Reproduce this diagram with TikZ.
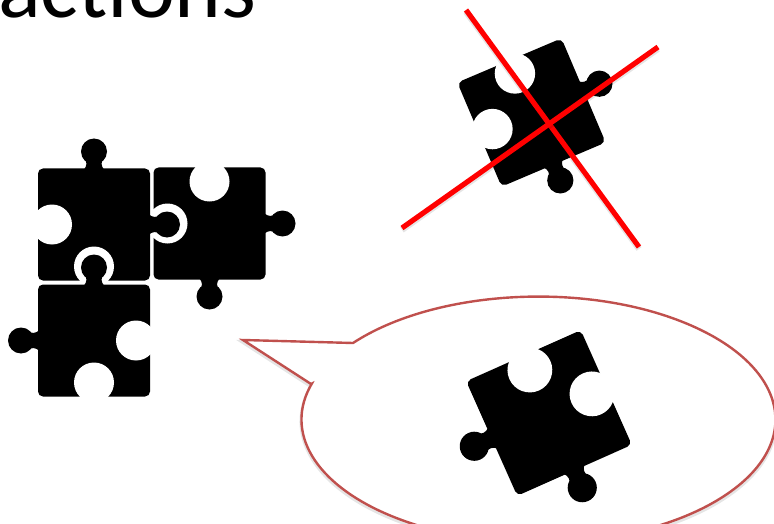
\documentclass[tikz,border=0pt]{standalone}
\usepackage{fontspec}
\setmainfont{Carlito}
\usepackage{tikz}

\definecolor{bubbleline}{RGB}{192,80,77}

\newcommand{\puzzlepiece}[7]{%
  \begin{scope}[shift={#1},rotate=#2,scale=#3]
    \fill[black,rounded corners=5pt] (-56,-56) rectangle (56,56);
    \foreach \kind/\ang in {#4/0,#5/-90,#6/180,#7/90}
      \pic[transform shape,rotate=\ang] {\kind};
  \end{scope}}

\begin{document}
\begin{tikzpicture}[
  x=1pt,y=-1pt,
  tabside/.pic={
    \fill[black] (0,-73) circle (13);
    \fill[black] (-10,-55) .. controls (-7,-59) and (-7,-61) .. (-9,-67)
      -- (9,-67) .. controls (7,-61) and (7,-59) .. (10,-55) -- cycle;
  },
  holeside/.pic={
    \fill[white] (0,-42) circle (20);
  },
  crossline/.style={draw=red,line width=5.2pt},
  softshadow/.style={draw=black,opacity=0.10,line width=#1},
]
  \path[use as bounding box,clip] (0,0) rectangle (774,524);

  \node[anchor=base west,inner sep=0pt,font=\fontsize{89}{89}\selectfont] (title) at (-2,18) {actions};

  % joined pieces
  \puzzlepiece{(209.5,223.5)}{0}{1}{holeside}{tabside}{tabside}{holeside}
  \puzzlepiece{(94,224.5)}{0}{1}{tabside}{tabside}{holeside}{holeside}
  \puzzlepiece{(94,340.5)}{0}{1}{tabside}{holeside}{holeside}{tabside}

  % crossed out piece
  \puzzlepiece{(531.5,112.5)}{23}{1.01}{holeside}{tabside}{tabside}{holeside}
  \coordinate (c1a) at (466,10);
  \coordinate (c1b) at (639,247);
  \coordinate (c2a) at (402,228);
  \coordinate (c2b) at (658,47);
  \foreach \a/\b in {c1a/c1b,c2a/c2b} {
    \draw[softshadow=6pt,transform canvas={yshift=-2pt}] (\a) -- (\b);
    \draw[crossline] (\a) -- (\b);
  }

  % speech bubble
  \coordinate (tip) at (243,340);
  \coordinate (tailtop) at (353,343);
  \coordinate (tailend) at (311,384);
  \draw[softshadow=4pt,transform canvas={yshift=-2pt}] (tip) -- (tailtop)
    arc[start angle=-141.5,end angle=197,x radius=237,y radius=123] -- (tailend) -- cycle;
  \draw[bubbleline,fill=white,line width=2.4pt,line join=miter] (tip) -- (tailtop)
    arc[start angle=-141.5,end angle=197,x radius=237,y radius=123] -- (tailend) -- cycle;
  \puzzlepiece{(549,413)}{24}{1.12}{holeside}{holeside}{tabside}{tabside}
\end{tikzpicture}
\end{document}
